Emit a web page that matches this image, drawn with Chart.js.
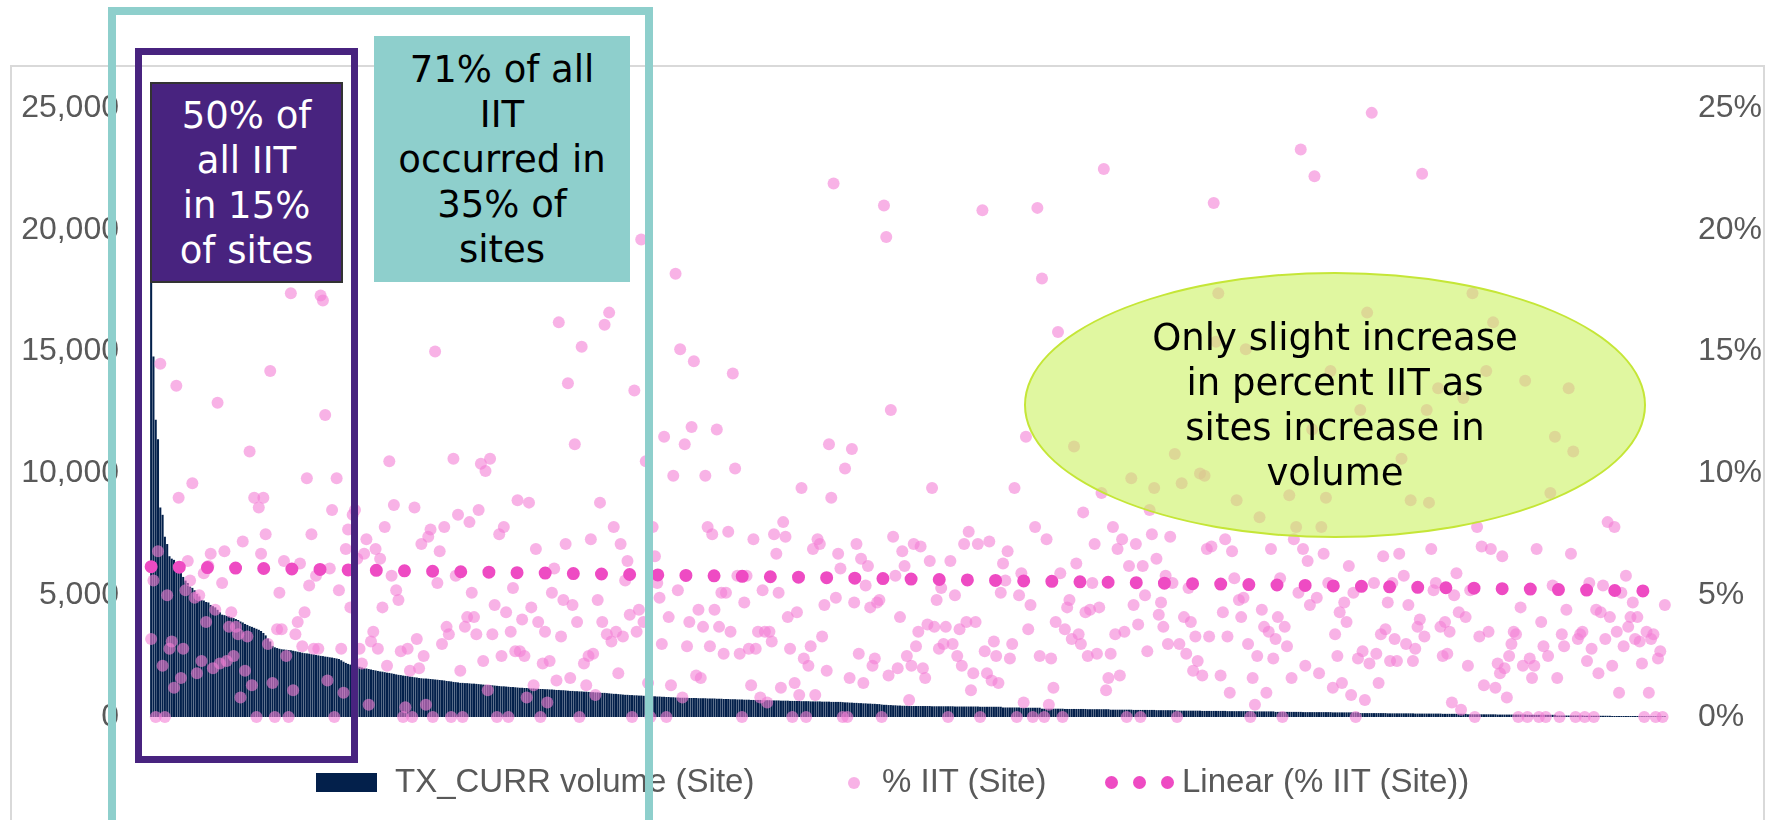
<!DOCTYPE html>
<html>
<head>
<meta charset="utf-8">
<script src="https://cdn.jsdelivr.net/npm/chart.js@4.4.1/dist/chart.umd.min.js"></script>
<style>
  html, body { margin: 0; padding: 0; background: #fff; }
  body { width: 1775px; height: 820px; overflow: hidden; position: relative; }
  #frame { position: absolute; left: 10px; top: 65px; width: 1755px; height: 800px; box-sizing: border-box; border: 2px solid #D9D9D9; }
  #wrap { position: absolute; left: 0; top: 0; width: 1775px; height: 820px; }
  .note { position: absolute; box-sizing: border-box; display: flex; align-items: center; justify-content: center; text-align: center;
          font-family: "DejaVu Sans", sans-serif; font-size: 37px; line-height: 45px; }
  #tealFrame { position: absolute; left: 108px; top: 7px; width: 545px; height: 900px; box-sizing: border-box; border: 8px solid #8ECFCC; }
  #purpleFrame { position: absolute; left: 135px; top: 48px; width: 223px; height: 715px; box-sizing: border-box; border: 7px solid #48237F; }
  #purpleNote { left: 150px; top: 82px; width: 193px; height: 201px; background: #48237F; border: 2px solid #333; color: #fff; }
  #tealNote { left: 374px; top: 36px; width: 256px; height: 246px; background: #8ECFCC; color: #000; }
  #ovalNote { left: 1024px; top: 272px; width: 622px; height: 266px; border-radius: 50%; background: rgba(203,242,97,0.6); border: 2.5px solid #C5E637; color: #000; }
  .leg { position: absolute; font-family: "Liberation Sans", sans-serif; font-size: 33px; line-height: 40px; color: #595959; white-space: nowrap; top: 761px; }
  .swatch { position: absolute; }
  .dot { position: absolute; border-radius: 50%; }
</style>
</head>
<body>
<div id="frame"></div>
<div id="wrap"><canvas id="chart"></canvas></div>

<div class="swatch" style="left:316px; top:773px; width:61px; height:19px; background:#03204B;"></div>
<div class="leg" style="left:395px;">TX_CURR volume (Site)</div>
<div class="dot" style="left:848px; top:777px; width:12px; height:12px; background:rgba(243,127,213,0.6);"></div>
<div class="leg" style="left:882px;">% IIT (Site)</div>
<div class="dot" style="left:1105px; top:776px; width:13px; height:13px; background:#EE4BC3;"></div>
<div class="dot" style="left:1133px; top:776px; width:13px; height:13px; background:#EE4BC3;"></div>
<div class="dot" style="left:1161px; top:776px; width:13px; height:13px; background:#EE4BC3;"></div>
<div class="leg" style="left:1182px;">Linear (% IIT (Site))</div>

<div id="ovalNote" class="note">Only slight increase<br>in percent IIT as<br>sites increase in<br>volume</div>
<div id="purpleNote" class="note">50% of<br>all IIT<br>in 15%<br>of sites</div>
<div id="tealNote" class="note">71% of all<br>IIT<br>occurred in<br>35% of<br>sites</div>
<div id="purpleFrame"></div>
<div id="tealFrame"></div>

<script>
// Sites ranked by current treatment volume (largest first)
const siteVolume = [
  19000,14800,12200,11400,8600,8300,7400,7100,6600,6500,
  6450,6300,6100,6000,5750,5600,5500,5350,5300,5200,
  5050,4950,4800,4780,4720,4700,4600,4550,4500,4400,
  4300,4200,4180,4150,4130,4100,4060,4020,3980,3920,
  3880,3820,3780,3730,3700,3660,3620,3580,3530,3450,
  3350,3220,3100,2920,2860,2830,2800,2780,2770,2760,
  2750,2740,2720,2700,2680,2660,2640,2620,2610,2600,
  2580,2570,2550,2530,2510,2500,2480,2470,2450,2440,
  2420,2400,2380,2330,2270,2220,2180,2150,2120,2100,
  2080,2060,2030,2000,1990,1970,1950,1930,1910,1890,
  1870,1860,1840,1820,1810,1790,1770,1750,1730,
  1720,1700,1690,1680,1660,1650,1630,1620,1600,
  1590,1580,1580,1570,1560,1550,1540,1530,1520,
  1510,1500,1480,1470,1460,1440,1430,1420,1400,
  1400,1390,1390,1380,1370,1370,1360,1350,
  1340,1330,1320,1310,1310,1300,1290,1280,1270,
  1260,1260,1250,1240,1230,1230,1220,1210,1200,
  1200,1190,1190,1180,1170,1170,1160,1160,1150,1150,1140,
  1140,1130,1130,1120,1110,1110,1100,1100,1090,1080,1070,
  1070,1060,1060,1050,1050,1040,1040,1030,1020,1020,1010,1010,1000,
  990,990,980,970,960,950,950,940,930,920,910,910,900,
  900,890,890,880,880,870,870,860,860,
  850,850,840,840,830,830,820,820,810,810,800,800,790,
  790,790,790,780,780,780,780,770,770,770,770,760,760,760,760,750,750,
  750,740,740,740,730,730,730,720,720,720,710,710,710,700,700,700,700,700,
  690,690,690,690,680,680,680,680,670,670,670,670,660,660,660,660,660,
  650,650,650,650,640,640,640,640,640,630,630,630,630,620,620,620,620,620,610,
  600,600,590,590,580,580,570,570,560,560,550,550,540,540,530,530,
  510,500,500,490,490,480,480,470,470,460,460,460,
  450,450,450,450,450,450,450,450,450,450,
  440,440,440,440,440,440,440,440,440,440,
  430,430,430,430,430,430,430,430,430,430,430,
  420,420,420,420,420,420,420,420,420,420,
  390,390,390,390,390,390,390,390,
  380,380,380,380,380,380,380,380,380,
  340,340,340,340,340,340,340,340,340,340,
  330,330,330,330,330,330,330,330,330,330,
  320,320,320,320,320,320,320,320,320,320,
  300,300,300,300,300,300,300,300,300,300,
  290,290,290,290,290,290,290,290,290,290,
  280,280,280,280,280,280,280,280,280,
  260,260,260,260,260,260,260,260,260,260,260,
  250,250,250,250,250,250,250,250,250,250,250,
  240,240,240,240,240,240,240,240,240,240,240,
  230,230,230,230,230,230,230,230,230,230,
  210,210,210,210,210,210,210,210,210,210,210,210,
  200,200,200,200,200,200,200,200,200,200,200,200,200,
  190,190,190,190,190,190,190,190,190,190,190,190,
  160,160,160,160,160,160,160,160,160,160,160,160,
  150,150,150,150,150,150,150,150,150,150,150,150,
  140,140,140,140,140,140,140,140,140,140,140,140,
  130,130,130,130,130,130,130,130,130,130,130,
  110,110,110,110,110,110,110,110,110,110,110,110,110,
  100,100,100,100,100,100,100,100,100,100,100,100,100,
  90,90,90,90,90,90,90,90,90,90,90,90,90,
  60,60,60,60,60,60,60,60,60,60,60,60,
  50,50,50,50,50,50,50,50,50,50,50,50,
  40,40,40,40,40,40,40,40,40,40,40,40,
  30,30,30,30,30,30,30,30,30,30,30,30
];

// Interruption in treatment, percent of each site's TX_CURR (same site order)
const siteIIT = [
  3.2,5.6,0,6.8,14.5,2.1,0,5.0,2.8,3.1,1.2,13.6,9.0,1.6,2.8,5.2,6.4,5.6,9.6,4.9,
  1.8,5.0,2.3,5.9,3.9,6.2,6.7,2.0,4.4,12.9,2.2,5.5,6.8,2.3,3.7,4.3,2.5,3.7,3.4,0.8,
  7.2,1.9,3.3,10.9,1.3,9.0,0,8.6,6.7,9.0,7.5,3.0,14.2,1.4,0,3.6,5.1,3.6,6.4,2.5,
  0,17.4,1.1,3.4,3.9,6.3,2.9,4.3,9.8,5.4,7.5,2.8,5.8,2.8,17.3,17.1,12.4,1.5,6.1,8.5,0,9.8,5.2,
  2.8,1.0,6.9,7.7,4.5,8.3,8.5,6.5,2.8,2.2,6.7,7.3,0.5,3.1,3.5,6.9,2.8,6.5,4.5,
  7.8,2.1,10.5,5.8,8.7,5.2,4.8,2.7,0,0.4,2.8,1.9,0,8.6,3.2,2.0,7.1,2.5,0.5,7.4,7.7,0,
  15.0,5.5,6.8,3.0,7.8,3.7,3.4,0,10.6,5.8,8.3,1.9,0,3.7,4.1,8.0,5.1,4.1,3.4,8.5,10.4,2.3,
  10.1,1.1,10.6,3.4,4.6,0,7.5,2.5,7.8,4.3,0,3.5,5.3,2.7,8.9,2.7,4.0,2.5,0.8,8.8,4.5,
  1.3,6.9,3.9,0,2.2,3.5,0.6,2.3,5.1,6.1,1.5,16.2,3.3,4.8,7.1,13.7,1.6,4.6,11.2,3.9,0,
  15.2,2.2,1.3,2.5,7.3,2.6,0.9,4.8,8.8,3.9,16.1,3.4,16.6,3.1,7.8,3.5,1.8,7.1,3.3,5.6,6.4,
  4.2,0,13.4,3.5,4.4,19.6,3.9,10.5,1.4,0,7.8,6.6,5.5,4.9,3.0,11.5,0,4.1,1.3,9.9,18.2,
  5.2,15.1,0.8,11.2,2.9,3.9,11.9,14.6,1.7,4.4,1.6,3.7,9.9,7.8,2.9,7.5,4.4,11.8,3.7,5.1,2.6,5.1,7.6,
  3.5,14.1,10.2,5.8,2.6,0,4.7,5.8,2.8,1.3,7.3,2.8,3.5,0.8,5.2,3.5,0.6,3.5,3.1,7.5,6.7,5.1,1.2,8.0,
  7.4,4.1,2.8,0,1.4,4.3,0.9,9.4,2.4,0,2.1,2.9,6.9,0.9,7.3,7.1,3.3,4.6,1.9,11.2,9.0,21.9,4.9,6.7,
  6.1,0,10.2,0,1.6,11.0,4.7,7.1,2.6,6.5,1.4,5.4,6.2,4.5,2.1,2.4,4.7,4.8,0,21.0,19.7,1.7,
  12.6,7.4,5.8,2.0,4.1,6.8,6.2,2.5,0.7,2.1,7.1,2.9,3.5,7.0,2.0,1.6,3.8,6.4,9.4,3.7,4.8,2.8,5.3,3.0,
  3.7,0,6.4,3.0,5.0,2.5,3.6,2.1,7.1,3.9,7.6,1.1,1.8,3.9,7.1,0,20.8,2.7,1.8,7.2,1.5,
  3.1,2.5,1.4,5.1,6.3,5.6,6.8,2.4,3.0,9.4,0,5.0,5.9,0.6,11.5,3.6,4.6,0,7.8,20.9,2.5,18.0,0,
  7.3,0.5,2.4,1.2,3.9,15.8,5.9,0,3.6,4.5,4.8,3.2,11.1,6.3,3.4,3.0,8.4,4.3,2.5,4.4,5.5,7.1,
  2.6,4.5,9.2,22.5,1.1,1.6,2.6,7.8,3.4,6.9,1.7,7.3,3.5,0,6.2,9.8,4.6,7.1,3.8,0,6.2,5.0,2.7,8.5,7.5,
  9.4,6.5,4.2,4.7,3.7,5.8,3.0,7.4,5.5,10.8,0,3.0,9.6,4.1,2.6,5.3,3.9,1.9,3.3,2.3,10.0,1.7,
  9.9,6.9,3.3,7.0,21.1,15.4,17.4,1.7,4.3,7.3,3.3,1.0,6.8,5.7,8.9,4.8,4.1,4.9,15.1,3.0,0,1.6,0.5,2.5,
  8.2,4.4,3.7,1.0,3.5,6.9,2.4,3.2,4.1,5.7,0,3.7,2.9,9.1,1.6,7.3,7.8,5.1,23.3,6.9,2.1,6.4,
  4.6,11.8,22.2,4.9,1.8,7.8,6.7,9.0,5.5,14.2,1.2,3.4,2.5,4.3,1.4,4.7,3.9,6.2,0.9,5.1,0,2.4,
  12.6,2.7,0.7,16.6,2.2,24.8,5.5,2.6,1.4,3.4,6.6,3.6,4.7,2.3,5.5,3.2,2.3,6.7,10.6,5.8,
  3.0,4.6,8.9,2.3,2.8,3.7,4.0,22.3,3.3,12.6,8.8,6.9,5.2,5.5,13.5,3.7,2.5,3.9,2.6,3.5,0.6,5.0,5.9,
  4.3,0.3,13.1,4.1,2.1,5.2,17.4,0,7.8,3.3,7.0,1.3,14.2,3.5,6.9,16.2,1.2,2.2,1.8,6.6,2.0,0.8,
  2.5,3.0,3.5,3.4,0,4.5,2.1,13.8,0,2.4,1.6,2.1,6.9,0,3.9,2.9,0,2.5,9.2,5.4,
  11.5,1.6,0,3.4,2.9,4.4,13.5,6.7,10.9,0,3.2,3.4,3.5,0,2.3,5.5,2.8,0,4.4,1.8,4.3,
  5.4,3.2,8.0,4.1,2.1,7.8,3.5,1.0,5.1,2.9,5.8,3.7,4.1,4.7,3.2,4.1,3.1,2.2,0,3.5,1.0,3.2,3.4,0,2.4,2.7,0,4.6
];

// Linear trend of % IIT: value at the first and at the last ranked site
const iitTrendEnds = [6.17, 5.16];

const volumeTicks = { min: 0, max: 25000, step: 5000 };
const percentTicks = { min: 0, max: 25, step: 5 };
const sites = siteIIT.map((_, i) => 'Site ' + (i + 1));

// Trend line runs straight from the first site to the last one (gaps spanned)
const lastSite = sites.length - 1;
const iitTrend = sites.map((_, i) => (i === 0 ? iitTrendEnds[0] : i === lastSite ? iitTrendEnds[1] : null));

const axisFont = { family: 'Liberation Sans', size: 32 };

new Chart(document.getElementById('chart'), {
  type: 'bar',
  data: {
    labels: sites,
    datasets: [
      {
        type: 'line', label: 'Linear (% IIT (Site))', data: iitTrend, yAxisID: 'yPct', spanGaps: true,
        borderColor: '#EE4BC3', borderWidth: 13, borderDash: [0, 28.15], borderCapStyle: 'round',
        pointRadius: 0, pointHoverRadius: 0, fill: false, clip: false, order: 1
      },
      {
        type: 'line', label: '% IIT (Site)', data: siteIIT, yAxisID: 'yPct', showLine: false,
        pointRadius: 6, pointHoverRadius: 6, pointBorderWidth: 0,
        pointBackgroundColor: 'rgba(243,127,213,0.6)', clip: false, order: 2
      },
      {
        type: 'bar', label: 'TX_CURR volume (Site)', data: siteVolume, yAxisID: 'yVol',
        backgroundColor: '#03204B', barPercentage: 0.9, categoryPercentage: 1, order: 3
      }
    ]
  },
  options: {
    responsive: true,
    maintainAspectRatio: false,
    animation: false,
    events: [],
    layout: { padding: { top: 108, bottom: 103, left: 0, right: 0 } },
    plugins: { legend: { display: false }, tooltip: { enabled: false } },
    scales: {
      x: { display: false, offset: true },
      yVol: {
        position: 'left', min: volumeTicks.min, max: volumeTicks.max,
        ticks: { stepSize: volumeTicks.step, padding: 31, color: '#595959', font: axisFont,
                 callback: v => v.toLocaleString('en-US') },
        grid: { display: false, drawTicks: false }, border: { display: false },
        afterFit: s => { s.width = 150; }
      },
      yPct: {
        position: 'right', min: percentTicks.min, max: percentTicks.max,
        ticks: { stepSize: percentTicks.step, padding: 32, color: '#595959', font: axisFont,
                 callback: v => v + '%' },
        grid: { display: false, drawTicks: false }, border: { display: false },
        afterFit: s => { s.width = 109; }
      }
    }
  }
});
</script>
</body>
</html>
